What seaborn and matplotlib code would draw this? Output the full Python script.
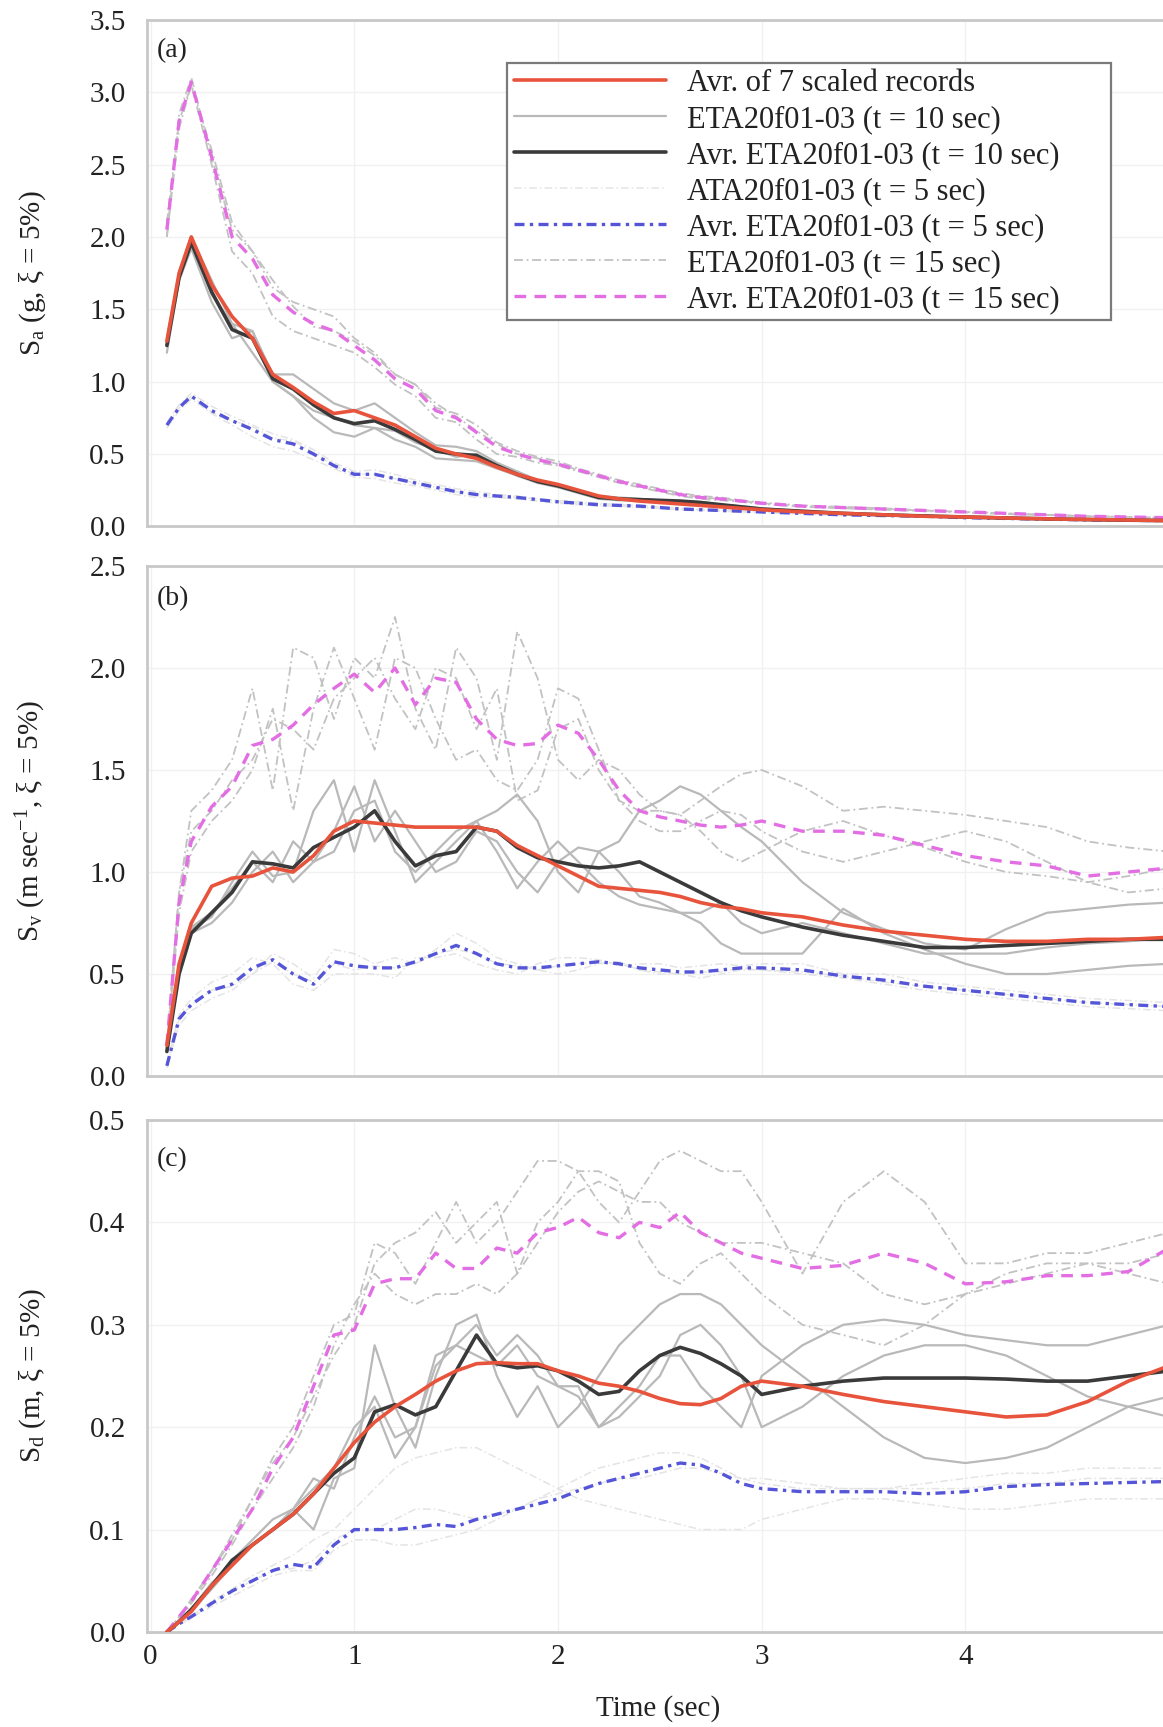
import numpy as np
import pandas as pd
import seaborn as sns
import matplotlib.pyplot as plt
from matplotlib.lines import Line2D
from matplotlib.ticker import FormatStrFormatter

# ---------------------------------------------------------------- data
period = [0.08, 0.14, 0.2, 0.3, 0.4, 0.5, 0.6, 0.7, 0.8, 0.9, 1.0, 1.1, 1.2, 1.3,
          1.4, 1.5, 1.6, 1.7, 1.8, 1.9, 2.0, 2.1, 2.2, 2.3, 2.4, 2.5, 2.6, 2.7,
          2.8, 2.9, 3.0, 3.2, 3.4, 3.6, 3.8, 4.0, 4.2, 4.4, 4.6, 4.8, 5.0]

# (a) spectral acceleration
sa_avr7 = [1.28, 1.75, 2.0, 1.67, 1.45, 1.3, 1.05, 0.96, 0.86, 0.78, 0.8, 0.75, 0.7, 0.62,
           0.54, 0.5, 0.47, 0.41, 0.36, 0.32, 0.29, 0.25, 0.21, 0.19, 0.175, 0.165, 0.155,
           0.145, 0.135, 0.125, 0.115, 0.1, 0.09, 0.08, 0.07, 0.065, 0.058, 0.052, 0.048,
           0.044, 0.04]
sa_avr10 = [1.25, 1.72, 1.96, 1.62, 1.36, 1.3, 1.02, 0.95, 0.84, 0.75, 0.71, 0.73, 0.67, 0.6,
            0.52, 0.5, 0.49, 0.42, 0.36, 0.31, 0.28, 0.24, 0.2, 0.19, 0.185, 0.18, 0.175,
            0.165, 0.15, 0.135, 0.12, 0.105, 0.09, 0.08, 0.072, 0.065, 0.058, 0.052, 0.047,
            0.043, 0.04]
sa_avr15 = [2.05, 2.8, 3.07, 2.55, 2.0, 1.85, 1.6, 1.48, 1.4, 1.35, 1.25, 1.15, 1.02, 0.95,
            0.8, 0.75, 0.65, 0.55, 0.5, 0.46, 0.43, 0.39, 0.35, 0.31, 0.28, 0.25, 0.22, 0.2,
            0.19, 0.175, 0.16, 0.14, 0.13, 0.12, 0.11, 0.1, 0.09, 0.08, 0.07, 0.065, 0.06]
sa_avr5 = [0.7, 0.82, 0.9, 0.8, 0.73, 0.67, 0.6, 0.57, 0.5, 0.42, 0.36, 0.36, 0.33, 0.3,
           0.27, 0.24, 0.22, 0.21, 0.2, 0.185, 0.17, 0.16, 0.15, 0.145, 0.14, 0.13, 0.12,
           0.115, 0.11, 0.105, 0.1, 0.09, 0.08, 0.075, 0.07, 0.06, 0.055, 0.05, 0.045,
           0.042, 0.04]
sa_rec10 = [
    [1.25, 1.7, 1.95, 1.6, 1.4, 1.2, 1.0, 0.9, 0.75, 0.65, 0.62, 0.68, 0.6, 0.55, 0.47, 0.46,
     0.45, 0.4, 0.35, 0.3, 0.27, 0.23, 0.19, 0.18, 0.18, 0.175, 0.17, 0.16, 0.15, 0.13, 0.12,
     0.1, 0.09, 0.08, 0.07, 0.065, 0.058, 0.052, 0.047, 0.043, 0.04],
    [1.3, 1.75, 2.0, 1.7, 1.4, 1.35, 1.05, 1.05, 0.95, 0.85, 0.8, 0.85, 0.75, 0.65, 0.56, 0.55,
     0.52, 0.44, 0.38, 0.32, 0.29, 0.25, 0.21, 0.2, 0.19, 0.18, 0.17, 0.165, 0.15, 0.14, 0.125,
     0.105, 0.09, 0.08, 0.072, 0.065, 0.06, 0.053, 0.048, 0.044, 0.04],
    [1.2, 1.7, 1.92, 1.55, 1.3, 1.35, 1.0, 0.9, 0.8, 0.75, 0.7, 0.68, 0.66, 0.58, 0.53, 0.48,
     0.5, 0.42, 0.35, 0.31, 0.28, 0.24, 0.2, 0.19, 0.185, 0.18, 0.175, 0.17, 0.15, 0.135, 0.12,
     0.105, 0.09, 0.08, 0.072, 0.065, 0.058, 0.052, 0.047, 0.043, 0.04],
]
sa_rec15 = [
    [2.0, 2.75, 3.05, 2.6, 2.1, 1.9, 1.65, 1.55, 1.5, 1.45, 1.3, 1.2, 1.05, 0.98, 0.82, 0.78,
     0.7, 0.58, 0.52, 0.48, 0.45, 0.4, 0.36, 0.32, 0.29, 0.26, 0.23, 0.21, 0.2, 0.18, 0.165,
     0.145, 0.135, 0.125, 0.11, 0.1, 0.09, 0.08, 0.07, 0.065, 0.06],
    [2.1, 2.8, 3.05, 2.5, 1.9, 1.75, 1.45, 1.35, 1.3, 1.25, 1.2, 1.1, 0.98, 0.9, 0.75, 0.72,
     0.6, 0.5, 0.48, 0.44, 0.42, 0.38, 0.34, 0.3, 0.27, 0.24, 0.21, 0.19, 0.18, 0.17, 0.155,
     0.135, 0.125, 0.115, 0.105, 0.095, 0.085, 0.078, 0.07, 0.063, 0.058],
    [2.0, 2.85, 3.1, 2.55, 2.05, 1.9, 1.7, 1.52, 1.38, 1.35, 1.28, 1.18, 1.05, 0.98, 0.85,
     0.76, 0.66, 0.57, 0.5, 0.47, 0.43, 0.39, 0.35, 0.31, 0.28, 0.25, 0.22, 0.2, 0.19, 0.175,
     0.16, 0.14, 0.13, 0.12, 0.11, 0.1, 0.09, 0.08, 0.07, 0.065, 0.06],
]
sa_rec5 = [
    [0.68, 0.8, 0.88, 0.78, 0.7, 0.62, 0.55, 0.52, 0.46, 0.4, 0.34, 0.33, 0.3, 0.28, 0.25, 0.22,
     0.2, 0.2, 0.19, 0.175, 0.16, 0.15, 0.14, 0.14, 0.13, 0.125, 0.115, 0.11, 0.105, 0.1, 0.095,
     0.085, 0.075, 0.07, 0.065, 0.058, 0.052, 0.048, 0.044, 0.04, 0.038],
    [0.72, 0.84, 0.92, 0.83, 0.76, 0.7, 0.64, 0.6, 0.53, 0.44, 0.38, 0.39, 0.36, 0.32, 0.29,
     0.26, 0.24, 0.22, 0.21, 0.19, 0.18, 0.17, 0.16, 0.15, 0.145, 0.135, 0.125, 0.12, 0.115,
     0.11, 0.105, 0.095, 0.085, 0.08, 0.075, 0.062, 0.057, 0.052, 0.047, 0.044, 0.042],
    [0.7, 0.82, 0.9, 0.79, 0.73, 0.69, 0.61, 0.59, 0.51, 0.42, 0.36, 0.36, 0.33, 0.3, 0.27,
     0.24, 0.22, 0.21, 0.2, 0.19, 0.17, 0.16, 0.15, 0.145, 0.14, 0.13, 0.12, 0.115, 0.11,
     0.105, 0.1, 0.09, 0.08, 0.075, 0.07, 0.06, 0.055, 0.05, 0.045, 0.042, 0.04],
]

# (b) spectral velocity
sv_avr7 = [0.15, 0.55, 0.75, 0.93, 0.97, 0.98, 1.02, 1.0, 1.08, 1.2, 1.25, 1.24, 1.23, 1.22,
           1.22, 1.22, 1.22, 1.2, 1.13, 1.08, 1.03, 0.98, 0.93, 0.92, 0.91, 0.9, 0.88, 0.85,
           0.83, 0.82, 0.8, 0.78, 0.74, 0.71, 0.69, 0.67, 0.66, 0.66, 0.67, 0.67, 0.68]
sv_avr10 = [0.12, 0.5, 0.7, 0.8, 0.9, 1.05, 1.04, 1.02, 1.12, 1.17, 1.22, 1.3, 1.15, 1.03,
            1.08, 1.1, 1.22, 1.2, 1.12, 1.07, 1.05, 1.03, 1.02, 1.03, 1.05, 1.0, 0.95, 0.9,
            0.85, 0.81, 0.78, 0.73, 0.69, 0.66, 0.63, 0.63, 0.64, 0.65, 0.66, 0.67, 0.67]
sv_avr15 = [0.15, 0.85, 1.15, 1.32, 1.42, 1.62, 1.65, 1.72, 1.82, 1.9, 1.97, 1.88, 2.0, 1.82,
            1.95, 1.93, 1.75, 1.65, 1.62, 1.63, 1.72, 1.68, 1.55, 1.4, 1.3, 1.27, 1.25, 1.23,
            1.22, 1.23, 1.25, 1.2, 1.2, 1.18, 1.13, 1.08, 1.05, 1.03, 0.98, 1.0, 1.02]
sv_avr5 = [0.05, 0.28, 0.35, 0.42, 0.45, 0.53, 0.57, 0.5, 0.45, 0.56, 0.54, 0.53, 0.53, 0.56,
           0.6, 0.64, 0.6, 0.55, 0.53, 0.53, 0.54, 0.55, 0.56, 0.55, 0.53, 0.52, 0.51, 0.51,
           0.52, 0.53, 0.53, 0.52, 0.49, 0.47, 0.44, 0.42, 0.4, 0.38, 0.36, 0.35, 0.34]
sv_rec10 = [
    [0.13, 0.55, 0.72, 0.78, 0.95, 1.1, 0.98, 1.0, 1.3, 1.45, 1.1, 1.45, 1.2, 0.95, 1.05, 1.15,
     1.25, 1.3, 1.38, 1.25, 1.0, 0.9, 1.1, 1.15, 1.3, 1.35, 1.42, 1.38, 1.3, 1.22, 1.15, 0.95,
     0.8, 0.72, 0.65, 0.62, 0.72, 0.8, 0.82, 0.84, 0.85],
    [0.12, 0.52, 0.7, 0.75, 0.85, 1.0, 1.1, 0.95, 1.05, 1.2, 1.42, 1.15, 1.3, 1.15, 1.0, 1.05,
     1.2, 1.15, 1.0, 0.9, 1.05, 1.12, 1.1, 1.0, 0.88, 0.85, 0.8, 0.75, 0.65, 0.6, 0.6, 0.6,
     0.82, 0.7, 0.62, 0.55, 0.5, 0.5, 0.52, 0.54, 0.55],
    [0.14, 0.54, 0.73, 0.8, 0.92, 1.05, 0.95, 1.15, 1.05, 1.1, 1.3, 1.35, 1.1, 1.0, 1.1, 1.2,
     1.25, 1.1, 0.92, 1.05, 1.15, 1.05, 0.95, 0.88, 0.84, 0.82, 0.8, 0.8, 0.85, 0.75, 0.7,
     0.75, 0.7, 0.65, 0.6, 0.6, 0.6, 0.63, 0.65, 0.66, 0.68],
]
sv_rec15 = [
    [0.15, 0.9, 1.3, 1.4, 1.55, 1.9, 1.4, 2.1, 2.05, 1.75, 2.05, 1.95, 2.25, 1.8, 1.6, 2.1,
     1.95, 1.55, 2.18, 1.95, 1.55, 1.45, 1.55, 1.5, 1.38, 1.3, 1.28, 1.35, 1.42, 1.48, 1.5,
     1.42, 1.3, 1.32, 1.3, 1.28, 1.25, 1.22, 1.15, 1.12, 1.1],
    [0.14, 0.8, 1.1, 1.25, 1.35, 1.5, 1.8, 1.3, 1.8, 2.1, 1.85, 1.6, 2.05, 2.0, 1.75, 1.55,
     1.6, 1.45, 1.4, 1.55, 1.9, 1.85, 1.6, 1.35, 1.25, 1.2, 1.2, 1.25, 1.3, 1.28, 1.2, 1.1,
     1.05, 1.1, 1.15, 1.2, 1.15, 1.05, 0.95, 0.9, 0.92],
    [0.16, 0.9, 1.2, 1.3, 1.45, 1.55, 1.75, 1.7, 1.6, 1.85, 1.95, 2.05, 1.85, 1.7, 2.0, 1.95,
     1.7, 1.9, 1.35, 1.4, 1.7, 1.75, 1.5, 1.35, 1.3, 1.3, 1.28, 1.2, 1.1, 1.05, 1.1, 1.2,
     1.25, 1.18, 1.12, 1.05, 1.0, 0.98, 0.95, 0.98, 1.02],
]
sv_rec5 = [
    [0.05, 0.25, 0.32, 0.38, 0.42, 0.5, 0.6, 0.55, 0.48, 0.62, 0.6, 0.55, 0.58, 0.55, 0.62,
     0.7, 0.65, 0.58, 0.55, 0.52, 0.5, 0.52, 0.55, 0.56, 0.52, 0.5, 0.5, 0.48, 0.5, 0.52,
     0.52, 0.5, 0.48, 0.45, 0.42, 0.4, 0.38, 0.36, 0.34, 0.33, 0.32],
    [0.06, 0.3, 0.38, 0.46, 0.5, 0.58, 0.55, 0.45, 0.42, 0.5, 0.5, 0.5, 0.48, 0.58, 0.58, 0.6,
     0.55, 0.52, 0.5, 0.55, 0.58, 0.58, 0.57, 0.54, 0.55, 0.55, 0.53, 0.54, 0.55, 0.54, 0.55,
     0.55, 0.5, 0.5, 0.46, 0.44, 0.42, 0.4, 0.38, 0.37, 0.36],
    [0.04, 0.28, 0.35, 0.42, 0.44, 0.5, 0.56, 0.5, 0.46, 0.55, 0.52, 0.54, 0.53, 0.55, 0.6,
     0.62, 0.6, 0.55, 0.54, 0.52, 0.54, 0.55, 0.56, 0.55, 0.52, 0.51, 0.5, 0.51, 0.51, 0.53,
     0.52, 0.51, 0.49, 0.46, 0.44, 0.42, 0.4, 0.38, 0.36, 0.35, 0.34],
]

# (c) spectral displacement
sd_avr7 = [0.0, 0.01, 0.02, 0.045, 0.065, 0.085, 0.1, 0.115, 0.135, 0.16, 0.185, 0.205, 0.22,
           0.232, 0.245, 0.255, 0.262, 0.263, 0.262, 0.262, 0.255, 0.25, 0.243, 0.24, 0.235,
           0.228, 0.223, 0.222, 0.228, 0.24, 0.245, 0.24, 0.232, 0.225, 0.22, 0.215, 0.21,
           0.212, 0.225, 0.245, 0.26]
sd_avr10 = [0.0, 0.01, 0.022, 0.045, 0.07, 0.085, 0.1, 0.115, 0.135, 0.155, 0.17, 0.215, 0.222,
            0.212, 0.22, 0.255, 0.29, 0.262, 0.258, 0.26, 0.255, 0.245, 0.232, 0.235, 0.255,
            0.27, 0.278, 0.272, 0.262, 0.25, 0.232, 0.24, 0.245, 0.248, 0.248, 0.248, 0.247,
            0.245, 0.245, 0.25, 0.255]
sd_avr15 = [0.0, 0.015, 0.03, 0.06, 0.09, 0.12, 0.16, 0.19, 0.24, 0.29, 0.295, 0.34, 0.345,
            0.345, 0.37, 0.355, 0.355, 0.375, 0.37, 0.39, 0.395, 0.405, 0.39, 0.385, 0.4, 0.395,
            0.41, 0.39, 0.38, 0.37, 0.365, 0.355, 0.358, 0.37, 0.36, 0.34, 0.342, 0.348, 0.348,
            0.352, 0.375]
sd_avr5 = [0.0, 0.008, 0.015, 0.028, 0.04, 0.05, 0.06, 0.066, 0.063, 0.085, 0.1, 0.1, 0.1,
           0.102, 0.105, 0.103, 0.11, 0.115, 0.12, 0.125, 0.13, 0.138, 0.145, 0.15, 0.155,
           0.16, 0.165, 0.163, 0.155, 0.145, 0.14, 0.137, 0.137, 0.137, 0.135, 0.137, 0.142,
           0.144, 0.145, 0.146, 0.147]
sd_rec10 = [
    [0.0, 0.01, 0.02, 0.045, 0.07, 0.09, 0.11, 0.12, 0.1, 0.15, 0.16, 0.28, 0.22, 0.18, 0.25,
     0.3, 0.31, 0.25, 0.21, 0.24, 0.2, 0.22, 0.25, 0.28, 0.3, 0.32, 0.33, 0.33, 0.32, 0.3,
     0.28, 0.25, 0.22, 0.19, 0.17, 0.165, 0.17, 0.18, 0.2, 0.22, 0.23],
    [0.0, 0.012, 0.022, 0.048, 0.065, 0.085, 0.1, 0.12, 0.14, 0.16, 0.2, 0.22, 0.17, 0.2, 0.27,
     0.28, 0.3, 0.27, 0.29, 0.27, 0.24, 0.23, 0.2, 0.21, 0.23, 0.25, 0.29, 0.3, 0.28, 0.25,
     0.2, 0.22, 0.25, 0.27, 0.28, 0.28, 0.27, 0.25, 0.23, 0.22, 0.21],
    [0.0, 0.01, 0.02, 0.042, 0.065, 0.085, 0.1, 0.12, 0.15, 0.14, 0.19, 0.23, 0.19, 0.2, 0.26,
     0.28, 0.27, 0.26, 0.28, 0.25, 0.24, 0.24, 0.2, 0.22, 0.24, 0.27, 0.27, 0.24, 0.22, 0.2,
     0.25, 0.28, 0.3, 0.305, 0.3, 0.29, 0.285, 0.28, 0.28, 0.29, 0.3],
]
sd_rec15 = [
    [0.0, 0.015, 0.03, 0.06, 0.09, 0.13, 0.17, 0.2, 0.25, 0.3, 0.31, 0.38, 0.37, 0.34, 0.38,
     0.42, 0.38, 0.4, 0.43, 0.46, 0.46, 0.45, 0.42, 0.4, 0.43, 0.46, 0.47, 0.46, 0.45, 0.45,
     0.42, 0.35, 0.42, 0.45, 0.42, 0.36, 0.36, 0.37, 0.37, 0.38, 0.39],
    [0.0, 0.012, 0.028, 0.055, 0.085, 0.12, 0.15, 0.18, 0.22, 0.28, 0.32, 0.35, 0.33, 0.32,
     0.33, 0.33, 0.34, 0.33, 0.35, 0.4, 0.42, 0.45, 0.45, 0.44, 0.38, 0.35, 0.34, 0.36, 0.37,
     0.35, 0.33, 0.3, 0.29, 0.28, 0.3, 0.33, 0.35, 0.36, 0.36, 0.35, 0.34],
    [0.0, 0.015, 0.032, 0.06, 0.095, 0.13, 0.165, 0.19, 0.23, 0.27, 0.3, 0.36, 0.38, 0.39,
     0.41, 0.38, 0.4, 0.42, 0.35, 0.38, 0.41, 0.43, 0.44, 0.43, 0.42, 0.42, 0.4, 0.39, 0.38,
     0.38, 0.38, 0.37, 0.36, 0.33, 0.32, 0.33, 0.34, 0.35, 0.36, 0.36, 0.37],
]
sd_rec5 = [
    [0.0, 0.008, 0.015, 0.03, 0.042, 0.055, 0.065, 0.075, 0.09, 0.1, 0.12, 0.14, 0.16, 0.17,
     0.175, 0.18, 0.18, 0.17, 0.16, 0.15, 0.14, 0.13, 0.125, 0.12, 0.115, 0.11, 0.105, 0.1,
     0.1, 0.1, 0.11, 0.12, 0.13, 0.13, 0.125, 0.12, 0.12, 0.125, 0.13, 0.13, 0.13],
    [0.0, 0.007, 0.014, 0.025, 0.035, 0.045, 0.055, 0.06, 0.06, 0.08, 0.09, 0.09, 0.085, 0.085,
     0.09, 0.095, 0.1, 0.11, 0.12, 0.13, 0.14, 0.15, 0.16, 0.165, 0.17, 0.175, 0.175, 0.17,
     0.16, 0.15, 0.145, 0.14, 0.14, 0.14, 0.145, 0.15, 0.155, 0.155, 0.16, 0.16, 0.16],
    [0.0, 0.008, 0.016, 0.028, 0.04, 0.05, 0.06, 0.062, 0.07, 0.09, 0.1, 0.1, 0.11, 0.12, 0.12,
     0.115, 0.11, 0.115, 0.12, 0.13, 0.135, 0.14, 0.145, 0.15, 0.15, 0.155, 0.16, 0.16, 0.155,
     0.15, 0.15, 0.145, 0.14, 0.14, 0.14, 0.14, 0.145, 0.145, 0.15, 0.15, 0.15],
]

legend_labels = ["Avr. of 7 scaled records",
                 "ETA20f01-03 (t = 10 sec)",
                 "Avr. ETA20f01-03 (t = 10 sec)",
                 "ATA20f01-03 (t = 5 sec)",
                 "Avr. ETA20f01-03 (t = 5 sec)",
                 "ETA20f01-03 (t = 15 sec)",
                 "Avr. ETA20f01-03 (t = 15 sec)"]

panel_tags = ["(a)", "(b)", "(c)"]
y_labels = [r"S$_\mathrm{a}$ (g, ξ = 5%)",
            r"S$_\mathrm{v}$ (m sec$^{-1}$, ξ = 5%)",
            r"S$_\mathrm{d}$ (m, ξ = 5%)"]
y_limits = [(0, 3.5), (0, 2.5), (0, 0.5)]
y_steps = [0.5, 0.5, 0.1]

panels = [
    dict(rec5=sa_rec5, rec10=sa_rec10, rec15=sa_rec15,
         avr5=sa_avr5, avr10=sa_avr10, avr15=sa_avr15, avr7=sa_avr7),
    dict(rec5=sv_rec5, rec10=sv_rec10, rec15=sv_rec15,
         avr5=sv_avr5, avr10=sv_avr10, avr15=sv_avr15, avr7=sv_avr7),
    dict(rec5=sd_rec5, rec10=sd_rec10, rec15=sd_rec15,
         avr5=sd_avr5, avr10=sd_avr10, avr15=sd_avr15, avr7=sd_avr7),
]

# ---------------------------------------------------------------- styles
styles = {
    "avr7":  dict(color="#e8533c", lw=2.6, ls="-"),
    "rec10": dict(color="#b9b9b9", lw=1.6, ls="-"),
    "avr10": dict(color="#3a3a3a", lw=2.6, ls="-"),
    "rec5":  dict(color="#e4e4e4", lw=1.1, ls=(0, (5, 2, 1, 2))),
    "avr5":  dict(color="#5555d8", lw=2.4, ls=(0, (3, 1.6, 1, 1.6))),
    "rec15": dict(color="#c2c2c2", lw=1.3, ls=(0, (5, 2, 1, 2))),
    "avr15": dict(color="#e36ee3", lw=2.4, ls=(0, (3.5, 2.5))),
}
legend_keys = ["avr7", "rec10", "avr10", "rec5", "avr5", "rec15", "avr15"]

# ---------------------------------------------------------------- figure
sns.set_theme(style="whitegrid")
plt.rcParams["font.family"] = ["Liberation Serif", "DejaVu Serif"]
plt.rcParams["mathtext.fontset"] = "custom"
plt.rcParams["mathtext.rm"] = "Liberation Serif"
plt.rcParams["mathtext.it"] = "Liberation Serif:italic"

W, H = 1163, 1727
fig = plt.figure(figsize=(W / 100, H / 100), dpi=100)
fig.patch.set_facecolor("white")

left_px, px_per_sec = 146.5, 203.7
x_min, x_max = -0.02, 5.0
axes_px = [(19.8, 526.4), (566.0, 1076.0), (1120.0, 1632.0)]
tag_y = [0.94, 0.937, 0.922]
TXT = "#222222"


def draw_series(ax, values, key, zorder):
    st = styles[key]
    sns.lineplot(x=period, y=values, ax=ax, color=st["color"], linewidth=st["lw"],
                 linestyle=st["ls"], legend=False, zorder=zorder, sort=False,
                 estimator=None, errorbar=None)


for i, (top, bot) in enumerate(axes_px):
    ax = fig.add_axes([left_px / W, 1 - bot / H,
                       (x_max - x_min) * px_per_sec / W, (bot - top) / H])
    data = panels[i]

    for rec in data["rec5"]:
        draw_series(ax, rec, "rec5", 2)
    for rec in data["rec15"]:
        draw_series(ax, rec, "rec15", 3)
    for rec in data["rec10"]:
        draw_series(ax, rec, "rec10", 3)
    draw_series(ax, data["avr5"], "avr5", 5)
    draw_series(ax, data["avr15"], "avr15", 5)
    draw_series(ax, data["avr10"], "avr10", 6)
    draw_series(ax, data["avr7"], "avr7", 7)

    lo, hi = y_limits[i]
    ax.set_xlim(x_min, x_max)
    ax.set_ylim(lo, hi)
    ax.set_yticks(np.arange(lo, hi + 1e-9, y_steps[i]))
    ax.yaxis.set_major_formatter(FormatStrFormatter("%.1f"))
    ax.set_xticks([0, 1, 2, 3, 4])
    ax.grid(True, color="#f1f1f1", linewidth=1.0)
    ax.tick_params(axis="both", length=0, labelsize=21, colors=TXT)
    ax.tick_params(axis="y", pad=15)
    ax.tick_params(axis="x", pad=9)
    for sp in ax.spines.values():
        sp.set_color("#c8c8c8")
        sp.set_linewidth(2.0)
    ax.set_ylabel(y_labels[i], fontsize=21, color=TXT)
    ax.yaxis.set_label_coords(-0.096, 0.5)
    ax.text(0.0105, tag_y[i], panel_tags[i], transform=ax.transAxes,
            fontsize=20, va="center", ha="left", color=TXT)

    if i < 2:
        ax.set_xticklabels([])
        ax.set_xlabel("")
    else:
        ax.set_xlabel("Time (sec)", fontsize=21, color=TXT, labelpad=18)

    if i == 0:
        handles = [Line2D([], [], color=styles[k]["color"], lw=styles[k]["lw"],
                          ls=styles[k]["ls"]) for k in legend_keys]
        # the frame leaves a wider margin on the right of the longest entry
        shown = list(legend_labels)
        shown[2] = shown[2] + "\u2003\u2002"
        leg = ax.legend(handles, shown, loc="upper left",
                        bbox_to_anchor=(0.353, 0.915), fontsize=22,
                        handlelength=5.0, handletextpad=0.68, labelspacing=0.23,
                        borderpad=0.2, borderaxespad=0.0, fancybox=False,
                        frameon=True, framealpha=1.0)
        leg.get_frame().set_edgecolor("#7a7a7a")
        leg.get_frame().set_linewidth(1.6)
        for t in leg.get_texts():
            t.set_color(TXT)

fig.savefig("out.png", dpi=100, facecolor="white")
